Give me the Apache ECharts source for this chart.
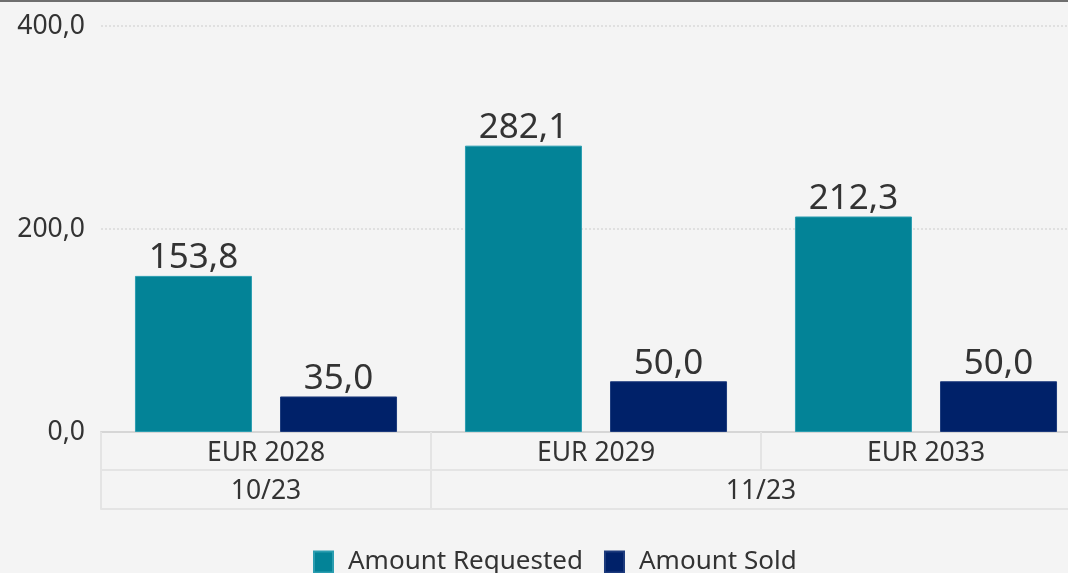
<html lang="en">
  <head>
    <meta charset="UTF-8" />
    <title>Auction results</title>
    <style>
      html, body { margin: 0; padding: 0; background: #f4f4f4; overflow: hidden; }
    </style>
  </head>
  <body>
    <div id="main" style="width: 1068px; height: 573px"></div>

    <script src="https://cdnjs.cloudflare.com/ajax/libs/echarts/6.0.0/echarts.min.js"></script>
    <script>
      // categories and groups
      const bonds = ['EUR 2028', 'EUR 2029', 'EUR 2033']
      const months = ['10/23', '11/23', '11/23']
      // series values
      const requested = [153.8, 282.1, 212.3]
      const sold = [35.0, 50.0, 50.0]
      const yTicks = [0, 200, 400]

      const font = 'Noto Sans'
      const comma = v => Number(v).toFixed(1).replace('.', ',')
      const lineColor = '#e4e4e4'

      let option = {
        backgroundColor: '#f4f4f4',
        textStyle: { fontFamily: font },
        animation: false,
        // the plot runs past the right edge of the picture
        grid: { left: 101, width: 990, top: 26, bottom: 141, outerBoundsMode: 'none' },
        graphic: [
          {
            type: 'rect',
            shape: { x: 0, y: 0, width: 1068, height: 2 },
            style: { fill: '#6f6f6f' }
          }
        ],
        legend: {
          left: 313,
          top: 549,
          padding: 0,
          itemWidth: 19,
          itemHeight: 21,
          itemGap: 21,
          icon: 'rect',
          textStyle: { fontSize: 26, color: '#333', fontFamily: font, padding: [0, 0, 0, 10] }
        },
        xAxis: [
          {
            type: 'category',
            data: bonds,
            position: 'bottom',
            axisLine: { lineStyle: { color: '#d6d6d6', width: 2 } },
            axisTick: { show: true, length: 38, lineStyle: { color: lineColor, width: 2 } },
            axisLabel: { interval: 0, margin: 8, fontSize: 26.5, color: '#333', fontFamily: font }
          },
          {
            // second level: month groups
            type: 'category',
            data: months,
            position: 'bottom',
            offset: 38,
            axisLine: { lineStyle: { color: lineColor, width: 2 } },
            axisTick: {
              show: true,
              length: 39,
              interval: (idx) => idx !== 2,
              lineStyle: { color: lineColor, width: 2 }
            },
            axisLabel: {
              interval: 0,
              margin: 8,
              fontSize: 26.5,
              color: '#333',
              fontFamily: font,
              formatter: (v, idx) => (idx === 0 ? v : idx === 1 ? '{s|' + v + '}' : ''),
              rich: { s: { fontSize: 26.5, color: '#333', fontFamily: font, padding: [0, 0, 0, 330] } }
            }
          },
          {
            // bottom border of the table
            type: 'category',
            data: bonds,
            position: 'bottom',
            offset: 77,
            axisLine: { lineStyle: { color: lineColor, width: 2 } },
            axisTick: { show: false },
            axisLabel: { show: false }
          }
        ],
        yAxis: {
          type: 'value',
          min: yTicks[0],
          max: yTicks[yTicks.length - 1],
          interval: yTicks[1] - yTicks[0],
          axisLine: { show: false },
          axisTick: { show: false },
          axisLabel: {
            margin: 16,
            padding: [4, 0, 0, 0],
            fontSize: 26.5,
            color: '#333',
            fontFamily: font,
            formatter: comma
          },
          splitLine: { lineStyle: { color: '#e0e0e0', type: 'dotted', width: 2 } }
        },
        series: [
          {
            name: 'Amount Requested',
            type: 'bar',
            data: requested,
            barWidth: 117,
            barGap: '24%',
            itemStyle: { color: '#038397', borderColor: '#2a9db0', borderWidth: 1 },
            label: {
              show: true,
              position: 'top',
              distance: 0,
              fontSize: 35,
              color: '#333',
              fontFamily: font,
              formatter: p => comma(p.value)
            }
          },
          {
            name: 'Amount Sold',
            type: 'bar',
            data: sold,
            barWidth: 117,
            itemStyle: { color: '#002169', borderColor: '#1c3a7c', borderWidth: 1 },
            label: {
              show: true,
              position: 'top',
              distance: 0,
              fontSize: 35,
              color: '#333',
              fontFamily: font,
              formatter: p => comma(p.value)
            }
          }
        ]
      }
      echarts.init(document.querySelector('#main')).setOption(option)
    </script>
  </body>
</html>
